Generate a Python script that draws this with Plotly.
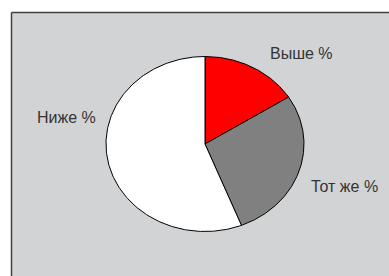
import numpy as np
import plotly.graph_objects as go

categories = ["Выше %", "Тот же %", "Ниже %"]
values = [16, 28, 56]
colors = ["#ff0000", "#808080", "#ffffff"]

# label anchor positions (normalized pie units), layout only
label_pos = [(0.97, 1.03), (1.41, -0.49), (-1.40, 0.30)]

W, H = 389, 276
cx_px, cy_px = 205, 144
rx_px, ry_px = 99, 87.5

fig = go.Figure()
total = sum(values)
start = 0.0
for cat, v, col in zip(categories, values, colors):
    a0 = start / total * 2 * np.pi
    a1 = (start + v) / total * 2 * np.pi
    t = np.linspace(a0, a1, 200)
    xs = np.concatenate([[0], np.sin(t), [0]])
    ys = np.concatenate([[0], np.cos(t), [0]])
    fig.add_trace(go.Scatter(x=xs, y=ys, fill="toself", fillcolor=col, mode="lines",
                             line=dict(color="black", width=1), name=cat,
                             hoverinfo="name", showlegend=False))
    start += v

for cat, (lx, ly) in zip(categories, label_pos):
    fig.add_annotation(x=lx, y=ly, text=cat, showarrow=False, xanchor="center", yanchor="middle",
                       font=dict(family="Liberation Sans, Arial, sans-serif", size=16, color="#333333"))

x_left = 11.5 / W
y_top = 1 - 12.5 / H
# white outer strips (left and top), gray chart area is the paper background
fig.add_shape(type="rect", xref="paper", yref="paper", x0=0, x1=x_left, y0=0.0, y1=1.0,
              fillcolor="white", line=dict(width=0), layer="below")
fig.add_shape(type="rect", xref="paper", yref="paper", x0=0, x1=1.0, y0=y_top, y1=1.0,
              fillcolor="white", line=dict(width=0), layer="below")
fig.add_shape(type="line", xref="paper", yref="paper", x0=x_left, x1=x_left, y0=0.0, y1=y_top,
              line=dict(color="#404040", width=1.5), layer="below")
fig.add_shape(type="line", xref="paper", yref="paper", x0=x_left, x1=1.0, y0=y_top, y1=y_top,
              line=dict(color="#404040", width=1.5), layer="below")

fig.update_layout(
    width=W, height=H, margin=dict(l=0, r=0, t=0, b=0),
    paper_bgcolor="#d2d3d5", plot_bgcolor="rgba(0,0,0,0)",
    xaxis=dict(range=[-cx_px / rx_px, (W - cx_px) / rx_px], visible=False, fixedrange=True),
    yaxis=dict(range=[-(H - cy_px) / ry_px, cy_px / ry_px], visible=False, fixedrange=True),
    showlegend=False,
)
fig.write_html("out.html", config={"displayModeBar": False},
               post_script="document.documentElement.style.overflow='hidden';"
                           "document.body.style.overflow='hidden';document.body.style.margin='0';")
